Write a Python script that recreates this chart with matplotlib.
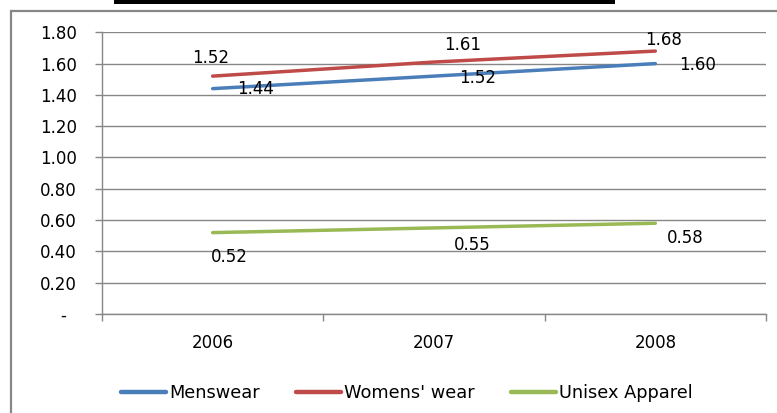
import matplotlib
matplotlib.use("Agg")
import matplotlib.pyplot as plt
from matplotlib.patches import Rectangle
from matplotlib.lines import Line2D

plt.rcParams['font.family'] = ['DejaVu Sans']

years = ["2006", "2007", "2008"]
menswear = [1.44, 1.52, 1.60]
womenswear = [1.52, 1.61, 1.68]
unisex = [0.52, 0.55, 0.58]
series_names = ["Menswear", "Womens' wear", "Unisex Apparel"]
colors = ["#4A7EBB", "#BE4B48", "#98B954"]
ytick_vals = [0.0, 0.2, 0.4, 0.6, 0.8, 1.0, 1.2, 1.4, 1.6, 1.8]

W, H = 777, 413
GRAY = "#878787"
fig = plt.figure(figsize=(W / 100, H / 100), dpi=100)

# outer chart frame and the title band
fig.patches.append(Rectangle((11 / W, -0.1), 1.2, 1 - 11 / H + 0.1,
                             transform=fig.transFigure, fill=False,
                             edgecolor=GRAY, linewidth=1.6))
fig.patches.append(Rectangle((114 / W, 1 - 3.5 / H), (615 - 114) / W, 3.5 / H + 0.01,
                             transform=fig.transFigure, facecolor="black",
                             edgecolor="none"))

ax = fig.add_axes([102 / W, 1 - 314 / H, 664 / W, (314 - 32.3) / H])
x = list(range(len(years)))

for vals, c, name in zip([menswear, womenswear, unisex], colors, series_names):
    ax.plot(x, vals, color=c, linewidth=2.5, solid_capstyle="round", label=name)

ax.set_xlim(-0.5, 2.5)
ax.set_ylim(0, 1.8)
ax.set_yticks(ytick_vals)
ax.set_yticklabels(["-  " if v == 0 else f"{v:.2f}" for v in ytick_vals])
ax.yaxis.grid(True, color=GRAY, linewidth=1)
ax.set_axisbelow(True)

ax.set_xticks(x)
ax.set_xticklabels(years)
ax.set_xticks([-0.5, 0.5, 1.5, 2.5], minor=True)
ax.tick_params(axis="x", which="major", length=0, pad=14.5, labelsize=12)
ax.tick_params(axis="x", which="minor", length=5, color=GRAY, width=1)
ax.tick_params(axis="y", length=5, color=GRAY, width=1, labelsize=12, pad=13)

for s in ["top", "right"]:
    ax.spines[s].set_visible(False)
for s in ["left", "bottom"]:
    ax.spines[s].set_color(GRAY)
    ax.spines[s].set_linewidth(1)

label_kw = dict(textcoords="offset pixels", fontsize=12, color="black",
                ha="center", va="center")
# value labels, offsets in pixels (x right, y up)
men_off = [(43, -0.5), (44, -1.5), (42, -1.5)]
women_off = [(-2, 18.5), (29, 17), (8, 11)]
unisex_off = [(17, -24), (38, -17), (30, -15)]
for vals, offs in [(menswear, men_off), (womenswear, women_off), (unisex, unisex_off)]:
    for i, (v, o) in enumerate(zip(vals, offs)):
        ax.annotate(f"{v:.2f}", (i, v), xytext=o, **label_kw)

handles = [Line2D([], [], color=c, linewidth=3.2, solid_capstyle="round") for c in colors]
fig.legend(handles, series_names, loc="center left", bbox_to_anchor=(121 / W, 1 - 393 / H),
           ncol=3, frameon=False, fontsize=12.8, handlelength=2.55, handletextpad=0.15,
           columnspacing=2.05, borderpad=0, borderaxespad=0)

fig.savefig("out.png", dpi=100)
